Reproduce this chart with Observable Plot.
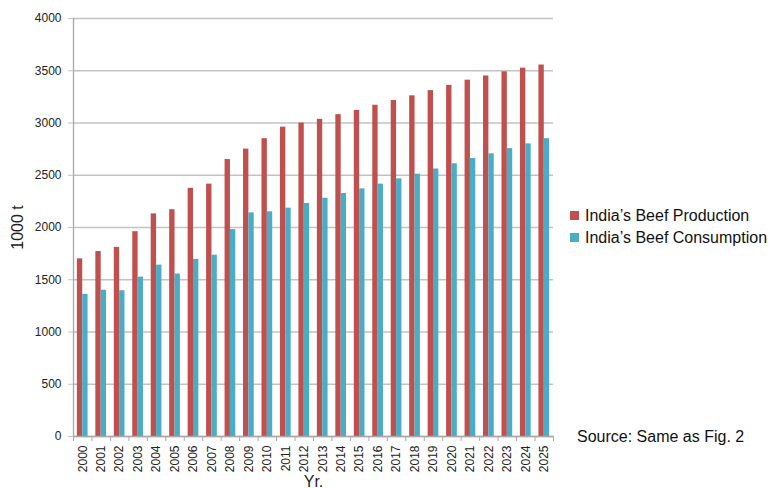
<!DOCTYPE html>
<html>
<head>
<meta charset="utf-8">
<script src="https://cdn.jsdelivr.net/npm/d3@7"></script>
<script src="https://cdn.jsdelivr.net/npm/@observablehq/plot@0.6"></script>
<style>
  body { margin: 0; background: #fff; }
  #wrap { position: relative; width: 777px; height: 488px; font-family: "Liberation Sans", Arial, sans-serif; }
  #chart { position: absolute; left: 0; top: 0; }
  #legend { position: absolute; left: 570px; top: 205px; }
  #legend .lg-swatches { font: 16px "Liberation Sans", Arial, sans-serif !important; color: #111; margin: 0 !important; }
  #legend .lg-swatch { height: 21.7px; padding: 0 !important; }
  #legend .lg-swatch svg { margin-right: 6px !important; }
  #source { position: absolute; left: 577px; top: 428px; font-size: 16px; color: #111; white-space: nowrap; }
</style>
</head>
<body>
<div id="wrap">
  <div id="chart"></div>
  <div id="legend"></div>
  <div id="source">Source: Same as Fig. 2</div>
</div>
<script>
// India's beef production and consumption, thousand tonnes per year
const years = [2000, 2001, 2002, 2003, 2004, 2005, 2006, 2007, 2008, 2009, 2010, 2011, 2012,
               2013, 2014, 2015, 2016, 2017, 2018, 2019, 2020, 2021, 2022, 2023, 2024, 2025];
const production = [1700, 1770, 1810, 1960, 2130, 2170, 2375, 2415, 2650, 2750, 2850, 2960, 3000,
                    3035, 3080, 3120, 3170, 3215, 3260, 3310, 3360, 3410, 3450, 3490, 3525, 3555];
const consumption = [1360, 1400, 1395, 1525, 1640, 1555, 1695, 1735, 1980, 2140, 2150, 2185, 2230,
                     2280, 2325, 2370, 2415, 2465, 2510, 2560, 2610, 2660, 2705, 2755, 2800, 2850];
const seriesNames = ["India\u2019s Beef Production", "India\u2019s Beef Consumption"];
const seriesColors = ["#c0504d", "#4bacc6"];
const yTicks = [0, 500, 1000, 1500, 2000, 2500, 3000, 3500, 4000];

// long format: one row per year and series
const rows = years.flatMap((year, i) => [
  {year, series: seriesNames[0], value: production[i]},
  {year, series: seriesNames[1], value: consumption[i]}
]);

// category boundaries for the tick marks between years
const boundaries = [years[0] - 0.5, ...years.map(y => y + 0.5)];
const barWidth = 0.29; // width of each bar, in years

const gridColor = "#c3c3c3";
const axisColor = "#a8a8a8";

const chart = Plot.plot({
  width: 777,
  height: 488,
  marginLeft: 73,
  marginRight: 224,
  marginTop: 18,
  marginBottom: 52,
  style: {fontFamily: "Liberation Sans, Arial, sans-serif", color: "#222", background: "#fff"},
  x: {type: "linear", domain: [boundaries[0], boundaries[boundaries.length - 1]]},
  y: {domain: [0, 4000]},
  color: {domain: seriesNames, range: seriesColors},
  marks: [
    Plot.gridY(yTicks, {stroke: gridColor, strokeOpacity: 1, strokeWidth: 1.3}),
    Plot.rectY(rows, {
      x1: d => d.series === seriesNames[0] ? d.year - barWidth : d.year,
      x2: d => d.series === seriesNames[0] ? d.year : d.year + barWidth,
      y: "value",
      fill: "series"
    }),
    Plot.ruleX([boundaries[0]], {stroke: axisColor, strokeWidth: 1.3}),
    Plot.ruleY([0], {stroke: axisColor, strokeWidth: 1.3}),
    Plot.axisY({
      ticks: yTicks, tickSize: 5, tickPadding: 7, stroke: gridColor, fontSize: 12,
      tickFormat: d => String(d),
      label: "1000 t", labelAnchor: "center", labelOffset: 62, labelArrow: "none"
    }),
    Plot.axisX({ticks: boundaries, tickSize: 5, tickFormat: () => "", stroke: axisColor, label: null}),
    Plot.axisX({
      ticks: years, tickSize: 0, tickPadding: 9, tickRotate: -90, fontSize: 12,
      tickFormat: d => String(d),
      label: "Yr.", labelAnchor: "center", labelOffset: 50, labelArrow: "none"
    })
  ]
});
chart.querySelectorAll("[aria-label='y-axis label'] text, [aria-label='x-axis label'] text")
  .forEach(t => t.setAttribute("font-size", 16));
document.getElementById("chart").appendChild(chart);

const legend = Plot.legend({
  color: {domain: seriesNames, range: seriesColors},
  legend: "swatches",
  columns: 1,
  swatchSize: 9,
  className: "lg"
});
document.getElementById("legend").appendChild(legend);
</script>
</body>
</html>
